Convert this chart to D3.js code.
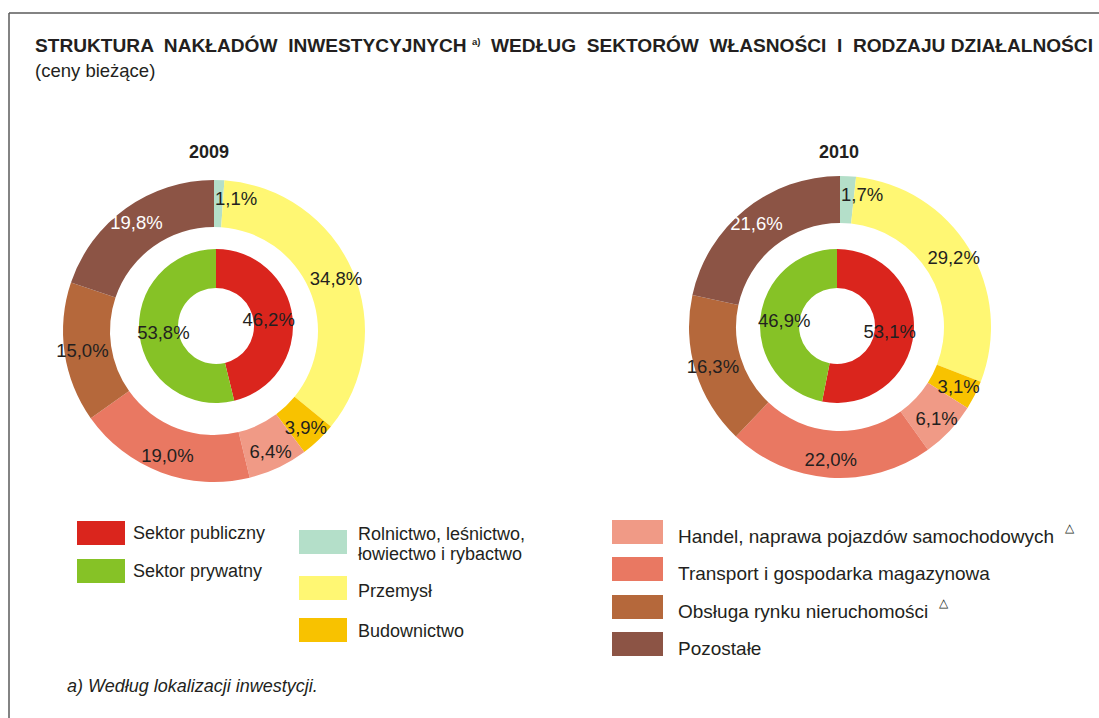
<!DOCTYPE html>
<html>
<head>
<meta charset="utf-8">
<script src="https://cdn.jsdelivr.net/npm/d3@7"></script>
<style>
  body { margin: 0; background: #fff; }
  svg text { font-family: "Liberation Sans", Arial, sans-serif; fill: #231f20; white-space: pre; }
</style>
</head>
<body>
<div id="chart"></div>
<script>
// data (percent shares)
var years = ["2009", "2010"];
var ownership = ["Sektor publiczny", "Sektor prywatny"];
var own2009 = [46.2, 53.8];
var own2010 = [53.1, 46.9];
var sectors = ["Rolnictwo, leśnictwo, łowiectwo i rybactwo", "Przemysł", "Budownictwo",
  "Handel, naprawa pojazdów samochodowych", "Transport i gospodarka magazynowa",
  "Obsługa rynku nieruchomości", "Pozostałe"];
var sec2009 = [1.1, 34.8, 3.9, 6.4, 19.0, 15.0, 19.8];
var sec2010 = [1.7, 29.2, 3.1, 6.1, 22.0, 16.3, 21.6];

var ownColors = ["#da251d", "#86c226"];
var secColors = ["#b4dfc9", "#fff773", "#f8c200", "#f09a86", "#e97862", "#b5683b", "#8c5445"];
var whiteLabel = [false, false, false, false, false, false, true];

var width = 1099, height = 718;

var svg = d3.select("#chart")
  .append("svg")
    .attr("width", width)
    .attr("height", height);

// frame, only top and left edges show
svg.append("line").attr("x1", 9).attr("x2", width).attr("y1", 13).attr("y2", 13)
  .attr("stroke", "#5a5a5a").attr("stroke-width", 1.5);
svg.append("line").attr("x1", 9).attr("x2", 9).attr("y1", 13).attr("y2", height)
  .attr("stroke", "#5a5a5a").attr("stroke-width", 1.5);

// title
var title = svg.append("text")
  .attr("x", 35).attr("y", 52)
  .attr("textLength", 1058)
  .attr("lengthAdjust", "spacingAndGlyphs")
  .style("font-weight", "bold")
  .style("font-size", "18px");
title.append("tspan").text("STRUKTURA  NAKŁADÓW  INWESTYCYJNYCH ");
title.append("tspan").attr("dy", -7).style("font-size", "9px").text("a)");
title.append("tspan").attr("dy", 7).text("  WEDŁUG  SEKTORÓW  WŁASNOŚCI  I  RODZAJU DZIAŁALNOŚCI");

svg.append("text")
  .attr("x", 35).attr("y", 77)
  .style("font-size", "18.5px")
  .text("(ceny bieżące)");

var fmt = function(v){ return d3.format(".1f")(v).replace(".", ",") + "%"; };

var pie = d3.pie().sort(null).value(function(d){ return d; });

function drawDonut(year, ownVals, secVals, cx, cy, icx, icy, tx){
  var g = svg.append("g");

  g.append("text")
    .attr("x", tx).attr("y", 158)
    .attr("text-anchor", "middle")
    .style("font-weight", "bold")
    .style("font-size", "18px")
    .text(year);

  // outer ring: kinds of activity
  var outerArc = d3.arc().innerRadius(104).outerRadius(151);
  var outerLab = d3.arc().innerRadius(133).outerRadius(133);
  var outer = g.append("g").attr("transform", "translate(" + cx + "," + cy + ")");
  var outerData = pie(secVals);
  outer.selectAll("path")
    .data(outerData)
    .enter().append("path")
      .attr("d", outerArc)
      .attr("fill", function(d, i){ return secColors[i]; });
  outer.selectAll("text")
    .data(outerData)
    .enter().append("text")
      .each(function(d, i){
        var t = d3.select(this);
        var c = outerLab.centroid(d);
        if(d.value < 2){
          // small slice, label runs off to the right
          t.attr("x", 133 * Math.sin(d.startAngle) + 1).attr("y", c[1])
            .attr("text-anchor", "start");
        } else {
          t.attr("x", c[0]).attr("y", c[1]).attr("text-anchor", "middle");
        }
      })
      .attr("dy", "0.35em")
      .style("font-size", "18.5px")
      .style("fill", function(d, i){ return whiteLabel[i] ? "#ffffff" : "#231f20"; })
      .text(function(d){ return fmt(d.value); });

  // inner ring: ownership sectors
  var innerArc = d3.arc().innerRadius(38).outerRadius(77);
  var innerLab = d3.arc().innerRadius(53).outerRadius(53);
  var inner = g.append("g").attr("transform", "translate(" + icx + "," + icy + ")");
  var innerData = pie(ownVals);
  inner.selectAll("path")
    .data(innerData)
    .enter().append("path")
      .attr("d", innerArc)
      .attr("fill", function(d, i){ return ownColors[i]; });
  inner.selectAll("text")
    .data(innerData)
    .enter().append("text")
      .attr("x", function(d){ return innerLab.centroid(d)[0]; })
      .attr("y", function(d){ return innerLab.centroid(d)[1]; })
      .attr("dy", "0.35em")
      .attr("text-anchor", "middle")
      .style("font-size", "18.5px")
      .text(function(d){ return fmt(d.value); });
}

drawDonut(years[0], own2009, sec2009, 214, 331, 216, 326, 209);
drawDonut(years[1], own2010, sec2010, 840, 327, 837, 326, 839);

// legend
var legend = svg.append("g");
function legendItem(x, y, sw, gap, base, color, lines, size, mark){
  legend.append("rect")
    .attr("x", x).attr("y", y)
    .attr("width", sw).attr("height", 24)
    .attr("fill", color);
  var t = legend.append("text")
    .attr("x", x + sw + gap)
    .attr("y", y + base - (lines.length - 1) * 8)
    .style("font-size", size + "px");
  lines.forEach(function(l, k){
    t.append("tspan").attr("x", x + sw + gap).attr("dy", k == 0 ? 0 : 20).text(l);
  });
  if(mark){
    t.append("tspan").attr("dx", 11).attr("dy", -11).style("font-size", "12px").text("△");
  }
}

legendItem(77, 521, 48, 8, 18, ownColors[0], [ownership[0]], 18);
legendItem(77, 559, 48, 8, 18, ownColors[1], [ownership[1]], 18);

legendItem(299, 530, 48, 11, 18, secColors[0], ["Rolnictwo, leśnictwo,", "łowiectwo i rybactwo"], 18);
legendItem(299, 576, 48, 11, 21, secColors[1], [sectors[1]], 18);
legendItem(299, 618, 48, 11, 19, secColors[2], [sectors[2]], 18);

legendItem(612, 520, 51, 15, 23, secColors[3], [sectors[3]], 19, true);
legendItem(612, 557, 51, 15, 23, secColors[4], [sectors[4]], 19);
legendItem(612, 595, 51, 15, 23, secColors[5], [sectors[5]], 19, true);
legendItem(612, 632, 51, 15, 23, secColors[6], [sectors[6]], 19);

// footnote
svg.append("text")
  .attr("x", 67).attr("y", 692)
  .style("font-style", "italic")
  .style("font-size", "18px")
  .text("a) Według lokalizacji inwestycji.");
</script>
</body>
</html>
